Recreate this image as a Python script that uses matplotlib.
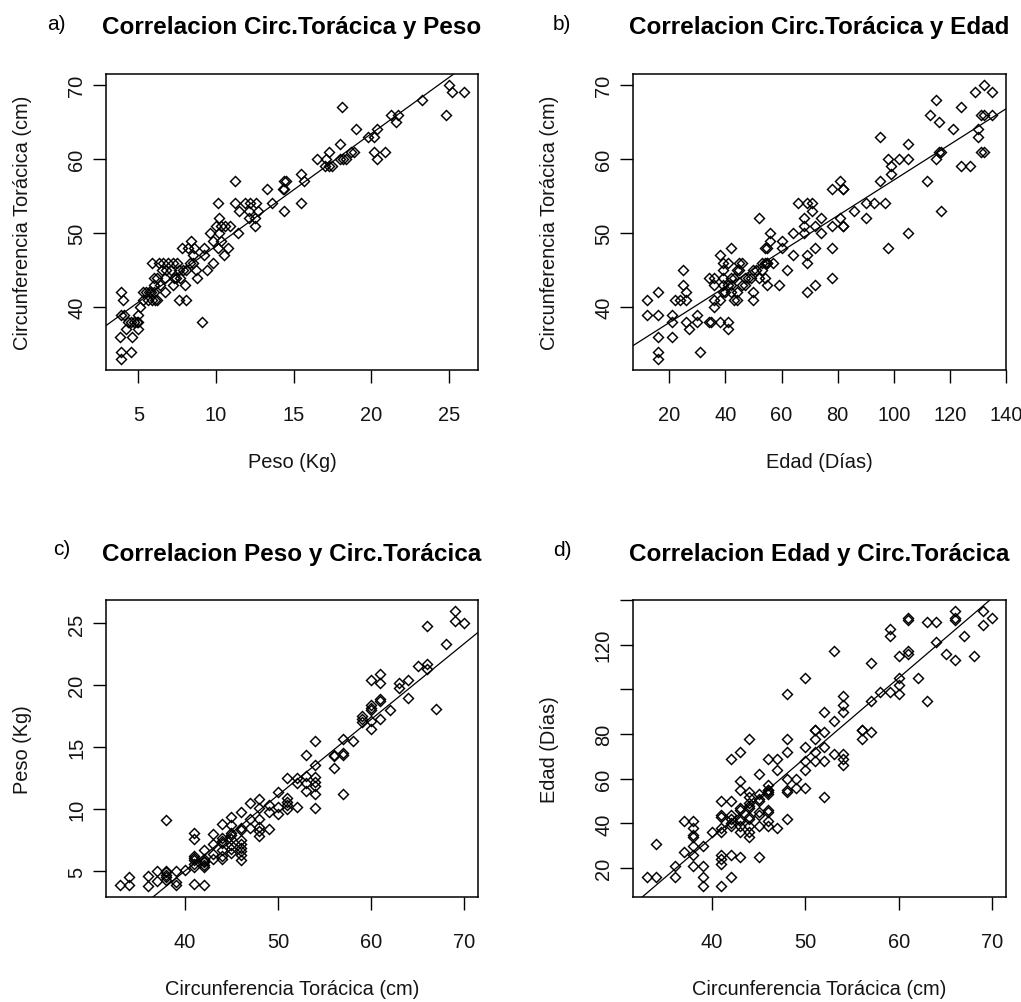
import numpy as np
import matplotlib
matplotlib.use("Agg")
import matplotlib.pyplot as plt

plt.rcParams['font.family'] = ['Liberation Sans', 'DejaVu Sans']

# ---------------- data ----------------
# Panel a / c : weight (kg) and chest girth (cm)
peso = [3.9, 4.0, 3.9, 4.1, 4.3, 4.5, 4.7, 4.9, 5.0, 3.8, 4.2, 5.0, 4.6, 3.9, 4.5, 3.9,
        5.0, 5.1, 5.3, 5.3, 5.5, 5.6, 5.8, 5.9, 6.0, 6.1, 6.2, 5.7, 6.0, 6.2, 6.0, 5.9,
        6.3, 6.6, 6.9, 7.2, 7.1, 6.7, 6.4, 6.7, 7.2, 7.6, 8.1, 8.0, 7.7, 7.9, 7.6, 7.8,
        8.2, 8.4, 8.6, 8.5, 8.3, 8.5, 8.8, 8.7, 9.1, 9.2, 9.4, 9.8, 9.6, 9.8, 10.2, 10.3,
        10.0, 10.3, 10.6, 10.9, 10.2, 10.1, 10.8, 10.5, 11.2, 11.2, 11.5, 11.4, 11.9, 12.2,
        12.6, 12.7, 12.1, 12.5, 12.5, 13.3, 13.6, 14.3, 14.4, 14.4, 14.5, 14.4, 15.5, 15.7,
        15.5, 16.5, 17.0, 17.1, 17.3, 17.3, 17.5, 18.0, 18.2, 18.4, 18.1, 18.0, 18.7, 18.9,
        19.0, 19.8, 20.2, 20.4, 20.2, 20.4, 20.9, 21.3, 21.7, 21.6, 23.3, 24.8, 25.0, 25.2,
        26.0, 7.3, 7.4, 6.5, 6.8, 7.5, 10.1, 8.1, 9.2, 12.1]
circ_peso = [42, 41, 39, 39, 38, 38, 38, 38, 38, 36, 37, 37, 36, 34, 34, 33,
             39, 40, 42, 41, 42, 41, 42, 41, 42, 41, 41, 42, 44, 44, 43, 46,
             46, 46, 46, 46, 45, 44, 43, 42, 43, 41, 41, 43, 44, 45, 45, 48,
             48, 49, 48, 47, 46, 46, 44, 45, 38, 48, 45, 46, 50, 49, 50, 49,
             51, 51, 51, 51, 52, 54, 48, 47, 57, 54, 53, 50, 54, 54,
             54, 53, 52, 52, 51, 56, 54, 56, 56, 57, 57, 53, 58, 57,
             54, 60, 59, 60, 61, 59, 59, 60, 60, 60, 67, 62, 61, 61,
             64, 63, 63, 64, 61, 60, 61, 66, 66, 65, 68, 66, 70, 69,
             69, 44, 44, 45, 45, 46, 48, 45, 47, 53]

# Panel b / d : age (days) and chest girth (cm)
edad = [12, 12, 16, 16, 16, 16, 16, 21, 21, 21, 22, 25, 25, 26, 24, 26, 26, 27, 30, 30,
        31, 34, 34, 35, 36, 36, 36, 38, 38, 38, 39, 39, 39, 39, 39, 41, 41, 42, 41, 42,
        42, 42, 43, 44, 44, 45, 45, 46, 47, 47, 50, 50, 50, 51, 52, 53, 54, 55, 55, 54,
        55, 54, 55, 56, 56, 59, 60, 60, 62, 64, 64, 66, 68, 68, 68, 69, 69, 69, 69, 71,
        71, 72, 72, 72, 74, 74, 78, 78, 78, 78, 81, 82, 82, 81, 82, 82, 86, 90, 90, 93,
        95, 95, 97, 98, 98, 99, 99, 102, 105, 105, 105, 112, 113, 115, 116, 115, 116, 117,
        117, 121, 124, 124, 127, 129, 130, 130, 131, 132, 131, 132, 132, 135, 135,
        44, 46, 48, 49, 52, 53, 57, 40, 41, 43, 36]
circ_edad = [39, 41, 42, 39, 36, 34, 33, 39, 38, 36, 41, 45, 43, 42, 41, 41, 38, 37, 39, 38,
             34, 44, 38, 38, 40, 44, 43, 47, 41, 38, 46, 45, 44, 43, 42, 38, 37, 48, 46, 44,
             43, 42, 41, 42, 41, 46, 45, 43, 44, 43, 45, 42, 41, 45, 52, 46, 46, 46, 46, 48,
             48, 44, 43, 50, 49, 43, 49, 48, 45, 50, 47, 54, 52, 51, 50, 47, 46, 42, 54, 54,
             53, 51, 48, 43, 52, 50, 51, 48, 44, 56, 57, 56, 56, 52, 51, 51, 53, 54, 52, 54,
             63, 57, 54, 48, 60, 59, 58, 60, 62, 60, 50, 57, 66, 68, 65, 60, 61, 61,
             53, 64, 67, 59, 59, 69, 64, 63, 66, 66, 61, 61, 70, 69, 66,
             45, 46, 44, 44, 44, 45, 46, 42, 43, 44, 41]

titles = ["Correlacion Circ.Torácica y Peso", "Correlacion Circ.Torácica y Edad",
          "Correlacion Peso y Circ.Torácica", "Correlacion Edad y Circ.Torácica"]
tags = ["a)", "b)", "c)", "d)"]
xlabels = ["Peso (Kg)", "Edad (Días)", "Circunferencia Torácica (cm)", "Circunferencia Torácica (cm)"]
ylabels = ["Circunferencia Torácica (cm)", "Circunferencia Torácica (cm)", "Peso (Kg)", "Edad (Días)"]
xticks = [[5, 10, 15, 20, 25], [20, 40, 60, 80, 100, 120, 140], [40, 50, 60, 70], [40, 50, 60, 70]]
yticks = [[40, 50, 60, 70], [40, 50, 60, 70], [5, 10, 15, 20, 25], [20, 40, 60, 80, 100, 120, 140]]
yticklabels = [None, None, None, ["20", "40", "60", "80", "", "120", ""]]

panels = [(peso, circ_peso), (edad, circ_edad), (circ_peso, peso), (circ_edad, edad)]

# ---------------- layout ----------------
W, H = 1021, 1003
fig = plt.figure(figsize=(W / 100, H / 100), dpi=100)
fig.patch.set_facecolor("white")

boxes = [(106, 75, 478, 371), (633, 75, 1006, 371), (106, 601, 478, 898), (633, 601, 1006, 898)]
title_base = [34, 34, 561, 561]
tag_pos = [(47, 30), (553, 30), (53, 555), (553, 556)]
txt_col = "#141414"

for i, (xs, ys) in enumerate(panels):
    l, t, r, b = boxes[i]
    ax = fig.add_axes([l / W, 1 - b / H, (r - l) / W, (b - t) / H])
    x = np.asarray(xs, float)
    y = np.asarray(ys, float)
    ax.plot(x, y, linestyle="none", marker="D", ms=5.0, mfc="none", mec="black", mew=1.05)
    px = 0.04 * (x.max() - x.min())
    py = 0.04 * (y.max() - y.min())
    xlim = (x.min() - px, x.max() + px)
    ylim = (y.min() - py, y.max() + py)
    slope, icpt = np.polyfit(x, y, 1)
    lx = np.array(xlim)
    ax.plot(lx, icpt + slope * lx, color="black", lw=0.9)
    ax.set_xlim(xlim)
    ax.set_ylim(ylim)

    ax.set_xticks(xticks[i])
    ax.set_yticks(yticks[i])
    if yticklabels[i] is not None:
        ax.set_yticklabels(yticklabels[i])
    ax.tick_params(axis="both", direction="out", length=9.4, width=1.0, color="black",
                   labelsize=14.4, labelcolor=txt_col)
    ax.tick_params(axis="x", pad=15.5)
    ax.tick_params(axis="y", pad=5)
    for lab in ax.get_yticklabels():
        lab.set_rotation(90)
        lab.set_va("center")
    for s in ax.spines.values():
        s.set_linewidth(1.1)
        s.set_color("black")

    ax.set_xlabel(xlabels[i], fontsize=14.4, color=txt_col, va="baseline")
    ax.xaxis.set_label_coords(0.5, -97 / (b - t))
    ax.set_ylabel(ylabels[i], fontsize=14.4, color=txt_col, va="baseline")
    ax.yaxis.set_label_coords(-78 / (r - l), 0.5)

    fig.text(((l + r) / 2) / W, 1 - title_base[i] / H, titles[i], ha="center", va="baseline",
             fontsize=17.5, fontweight="bold", color="black")
    fig.text(tag_pos[i][0] / W, 1 - tag_pos[i][1] / H, tags[i], ha="left", va="baseline",
             fontsize=15, color="black")

fig.savefig("out.png", dpi=100, facecolor="white")
